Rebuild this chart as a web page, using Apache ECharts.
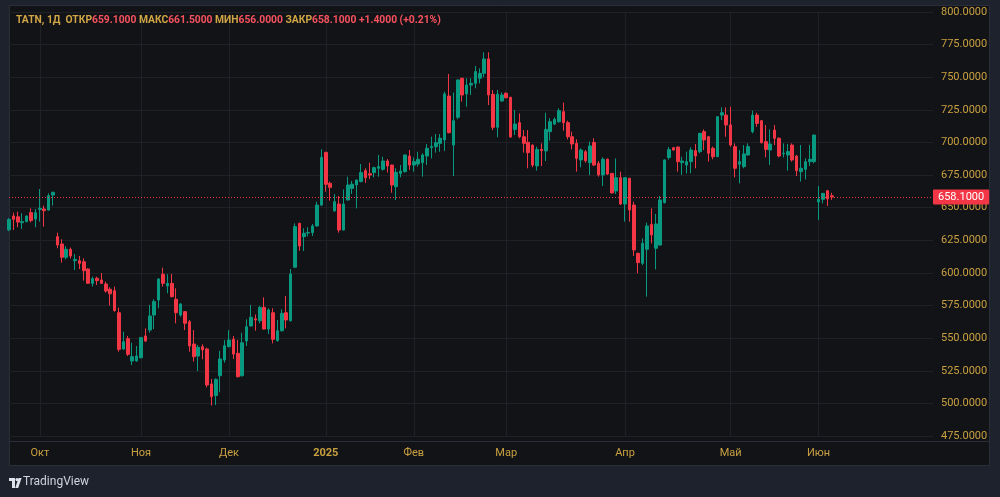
<!DOCTYPE html>
<html>
<head>
<meta charset="utf-8">
<script src="https://cdn.jsdelivr.net/npm/echarts@6/dist/echarts.min.js"></script>
<style>
html, body { margin: 0; padding: 0; background: #1e222d; }
#chart { width: 1000px; height: 497px; }
</style>
</head>
<body>
<div id="chart"></div>
<script>
// TATN daily candles, 20 Sep 2024 .. 6 Jun 2025
var opens = [633,643.6,643,638.5,639.3,646.2,641.3,648.7,649,648.2,659.7,627.8,622.2,612,618.1,609.4,609.4,608.6,603,592,
595.9,594.6,591.5,587.5,586.4,569.5,541.7,549.6,532.5,532.5,535,551.7,556.2,567.7,579.2,599,590,592,579.8,567.7,
570.3,562.6,545.5,536.3,543.5,541.7,514.9,506,521.2,533.2,543.5,549.1,538.4,521.2,547.8,559.3,564.8,563.4,573.6,557,
569.5,548.1,555.7,569.5,563.4,604.3,638,627.8,630.6,630.9,636,652,692.4,668.7,647.5,652.8,632.9,655.9,664.8,667.4,
670,678.4,676,676.9,680.2,679.4,685.8,682.7,666.1,676.3,677.6,689.6,682.7,683.5,684.5,689.6,696,696.8,699.3,701.9,
735.6,698,719.3,749.2,737.2,744,745.3,749.2,753,764,736.9,711.6,731.8,737.7,734.6,710,715.2,704.4,700.1,698,
682,694.7,693.5,708.3,714.1,715.9,723.6,715.2,704.4,699.3,686.6,692.9,684.5,700,684,675.1,687.1,676.3,662.8,673,
652.8,672.5,652,615,607.4,618.1,637.2,618.9,621.4,653.8,688.5,696,696.5,684.5,682.7,685.3,693.7,693,708.3,704.4,
695.5,689.1,721,721,713.4,696.8,683.3,681.5,690.4,708.3,721,716.7,700.6,694.2,709.5,703.2,691.4,690.4,698,689.6,
677.6,679.4,685.3,685.3,654.4,656.4,663,659.1];
var highs = [642,646.2,647,645.7,644.1,649.5,649,664.3,651.6,661,662.3,630.9,625.8,620.6,619.4,614.5,613,611.2,603.5,597.1,
597.1,599.9,593.3,589,589.5,573.4,555,551.7,546.5,544,551,557.5,575.4,579.8,596,604,599,599.2,588.2,576.7,
570.8,563.9,556.2,544.8,545.3,542.7,518.7,519.2,540.2,548.6,556.2,551.7,548.6,554.2,564.4,575.4,568.2,574.6,581.3,572.9,
572.9,563.9,572.1,582.3,603,638,638.5,634.2,635,637.5,654.6,694.7,692.9,670,660.5,659,664,673.8,670.5,671.5,
683.5,680.2,684.5,681.5,690.4,689.1,687.3,683,680.2,682.7,690.8,694.2,688.6,692.9,691.7,698.8,704.4,706.5,706.5,738.9,
752.5,738.2,748.4,749.6,749.2,749.2,758.6,756.8,769.1,769.1,740.2,740.2,738.4,738.4,735,724.9,722.3,709.5,709.5,698.4,
696.8,699.3,722.8,718.5,719.2,726.2,730.5,716.7,708.3,702.4,695.5,694.2,700.6,703.2,685.8,688.6,687.8,676.6,687.8,677.6,
673.4,672.9,654.6,615.5,626.5,638.5,649.5,645.2,659,687.1,696.5,696.4,696.8,689.1,693,696.3,698.8,707.3,710,705,
696.8,720.2,726.9,726.9,727.4,699.3,694.2,698,699.3,724.4,722.8,717,713.4,710,713.4,703.9,699.3,698.8,699.3,690.4,
698,687.8,698,706,666.6,661.2,663.6,661.5];
var lows = [632,632.9,635,633.7,638.8,638.8,635,639.3,635.5,647.7,651.6,618.9,607.9,610.4,611.2,602.2,603,594.1,591.5,589.5,
590.8,591.5,584.9,575,570.3,539.6,540.9,536.3,529.4,532,534.5,547,554.2,557,572.9,589.5,584.4,581.3,561.4,566.5,
556.2,539.6,532,524.8,533.8,512.3,498.3,498.8,508.5,531.2,543,534,519.7,520.5,544,559,555.7,561.4,556.8,553.2,
546,547.3,555,557.5,562.6,604,617,616.8,628,628.3,635.5,651.5,662.3,655.4,647,630.9,632.5,655.5,660.5,649.5,
669.5,669,672,673.3,673.8,678.4,676.9,661.5,655.9,673.3,676.9,678.9,677.6,681.5,673.8,682.7,687.8,692.2,692.9,693.5,
707,674.3,717.7,731.3,727.4,736.4,741.5,745.3,750,728.7,709.5,704,731.3,733.8,703.5,705.7,703.2,692.2,680.2,681,
678.4,682,685.8,701.4,713.4,715.2,709,702.4,694.7,677.6,681,684.5,675,682,673.8,666.6,675.1,661,660.5,652,
639.3,639.3,613,599.7,606,581.8,622.7,602.7,621,653.3,686.8,693.8,677.6,675.1,676.3,676.3,680.2,691.7,694.2,685.3,
687.1,688.8,717.2,704.4,696.8,673.3,668.7,680.2,690,707,712,699.3,688.6,682.7,698,688.6,688.6,678.4,685.3,674.3,
670,671.7,682,684,640.6,653.3,651.3,656];
var closes = [641,641.1,639,639.3,643.6,640.1,646.2,649.5,647.7,659.2,661.8,621.4,612,618.1,613,610.4,607.3,601.7,592,595.6,
594.1,592,586.1,584,571.1,541.4,547.3,537.6,535.8,536.3,550.4,547.8,567,578,595.3,592,592,581.8,569.5,576.2,
561.4,544,535.8,543,541,514.1,505.2,518.4,534,544.2,548.6,537.8,520.5,546.5,558.8,566,564,573.6,557,571.6,
549.1,555.7,569,563.9,599.2,635.5,620.6,630.4,631,636,652,688.6,667.9,665.6,654.6,632.9,652.8,667.4,668,671.2,
676.9,673,675,680.7,681.5,685.8,682,667.4,677.1,678.1,690.4,682.7,685.3,687.1,690.4,695.5,697,699.8,703.2,737.2,
707.5,716.7,747.9,736.4,744,745.3,754.3,753,764,736.4,711.6,737,736.4,734.3,704.2,714.1,704.4,699.3,692.2,682.7,
694.7,693.7,710,715.9,717.7,724.4,715.2,704.4,698.8,687.8,694.2,686,697.3,682.7,675.1,687.1,675.8,661.3,673,652.8,
673,648.2,617.6,607.9,622.7,636,629.1,637.5,655.9,686.6,694.5,694.2,685.3,685.8,685.3,694.2,689.6,707,701.9,691.7,
689.1,719.8,722.8,713.4,698,680.2,685.3,691.2,696.8,721,714.6,699.8,694.7,698.8,703.2,689.6,691.8,693,686.6,678.4,
680.2,685.3,687.1,705.7,656.4,661,656.7,658.1];

// month labels on the time scale: candle index -> text
var monthTicks = { 7: 'Окт', 30: 'Ноя', 50: 'Дек', 72: '2025', 92: 'Фев', 113: 'Мар', 140: 'Апр', 164: 'Май', 184: 'Июн' };
var emptyDays = 23;          // blank space right of the last candle
var priceMin = 475, priceMax = 800, priceStep = 25;

var UP = '#089981', DOWN = '#f23645', GOLD = '#c9a040', GRID = '#1f2127';

var categories = [];
var candles = [];
for (var i = 0; i < opens.length + emptyDays; i++) {
	categories.push(String(i));
	if (i < opens.length) {
		candles.push([opens[i], closes[i], lows[i], highs[i]]);
	}
}

var last = opens.length - 1;
var change = closes[last] - closes[last - 1];
var changePct = change / closes[last - 1] * 100;
var sign = change >= 0 ? '+' : '';
var header = '{g|TATN, 1Д  ОТКР}{r|' + opens[last].toFixed(4) + '} ' +
	'{g|МАКС}{r|' + highs[last].toFixed(4) + '} ' +
	'{g|МИН}{r|' + lows[last].toFixed(4) + '} ' +
	'{g|ЗАКР}{r|' + closes[last].toFixed(4) + '} ' +
	'{r|' + sign + change.toFixed(4) + ' (' + sign + changePct.toFixed(2) + '%)}';

function isTick(index) {
	return monthTicks[index] !== undefined;
}

var chart = echarts.init(document.getElementById('chart'));
chart.setOption({
	backgroundColor: '#1e222d',
	animation: false,
	textStyle: { fontFamily: 'Roboto, sans-serif' },
	title: {
		text: header,
		left: 11,
		top: 10,
		textStyle: {
			fontSize: 10.3,
			rich: {
				g: { color: '#d0a545', fontSize: 10.3, fontFamily: 'Roboto, sans-serif' },
				r: { color: '#f7525f', fontSize: 10.3, fontFamily: 'Roboto, sans-serif' }
			}
		}
	},
	grid: { left: 9, right: 67, top: 12, bottom: 61 },
	xAxis: {
		type: 'category',
		data: categories,
		boundaryGap: false,
		axisLine: { show: false },
		axisTick: { show: false },
		axisLabel: {
			interval: isTick,
			margin: 12,
			color: GOLD,
			fontSize: 11,
			formatter: function(value) {
				var t = monthTicks[value] || '';
				return t === '2025' ? '{b|2025}' : t;
			},
			rich: { b: { color: GOLD, fontSize: 11, fontWeight: 'bold' } }
		},
		splitLine: { show: true, interval: isTick, lineStyle: { color: GRID, width: 1 } }
	},
	yAxis: {
		type: 'value',
		position: 'right',
		min: priceMin,
		max: priceMax,
		interval: priceStep,
		axisLine: { show: false },
		axisTick: { show: false },
		axisLabel: {
			color: GOLD,
			fontSize: 11,
			margin: 8,
			formatter: function(v) { return v.toFixed(4); }
		},
		splitLine: { lineStyle: { color: GRID, width: 1 } }
	},
	graphic: [
		{ type: 'rect', z: -10, shape: { x: 9.5, y: 5.5, width: 980, height: 460 },
			style: { fill: '#121317', stroke: '#2a2e39', lineWidth: 1 } },
		{ type: 'line', z: -9, shape: { x1: 9, y1: 441.5, x2: 990, y2: 441.5 },
			style: { stroke: '#2a2e39', lineWidth: 1 } },
		{ type: 'rect', shape: { x: 9, y: 478, width: 6, height: 3 }, style: { fill: '#e0e3eb' } },
		{ type: 'rect', shape: { x: 12, y: 478, width: 3, height: 10 }, style: { fill: '#e0e3eb' } },
		{ type: 'circle', shape: { cx: 17, cy: 479.6, r: 1.6 }, style: { fill: '#e0e3eb' } },
		{ type: 'polygon', shape: { points: [[18.6, 478], [21.6, 478], [18.2, 488], [15.2, 488]] }, style: { fill: '#e0e3eb' } },
		{ type: 'text', left: 23, top: 476, style: { text: 'TradingView', fill: '#d1d4dc', fontSize: 12, fontFamily: 'Roboto, sans-serif' } }
	],
	series: [{
		type: 'candlestick',
		data: candles,
		barWidth: 3,
		clip: true,
		itemStyle: {
			color: UP,
			color0: DOWN,
			borderColor: UP,
			borderColor0: DOWN,
			borderWidth: 1
		},
		markLine: {
			symbol: ['none', 'none'],
			silent: true,
			data: [{ yAxis: closes[last] }],
			lineStyle: { color: DOWN, type: [1, 2], width: 1 },
			label: {
				position: 'end',
				distance: 0,
				formatter: function() { return closes[last].toFixed(4); },
				color: '#ffffff',
				fontSize: 11,
				backgroundColor: DOWN,
				padding: [2, 5, 2, 5],
				borderRadius: 1
			}
		}
	}]
});
</script>
</body>
</html>
